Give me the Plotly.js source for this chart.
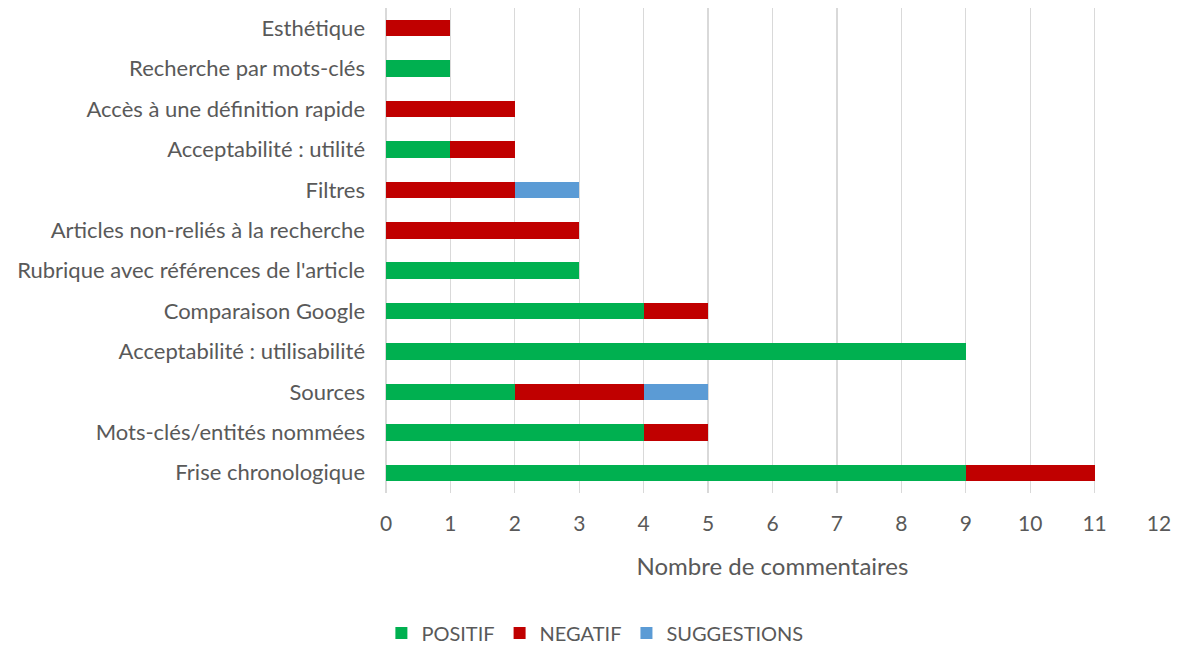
<!DOCTYPE html>
<html><head><meta charset="utf-8">
<script src="https://cdn.plot.ly/plotly-3.0.1.min.js"></script>
<style>body{margin:0;background:#fff}#chart{width:1178px;height:646px}</style>
</head><body><div id="chart"></div>
<script>
const categories = ["Frise chronologique","Mots-clés/entités nommées","Sources","Acceptabilité : utilisabilité","Comparaison Google","Rubrique avec références de l'article","Articles non-reliés à la recherche","Filtres","Acceptabilité : utilité","Accès à une définition rapide","Recherche par mots-clés","Esthétique"];
const positif = [9,4,2,9,4,3,0,0,1,0,1,0];
const negatif = [2,1,2,0,1,0,3,2,1,2,0,1];
const suggestions = [0,0,1,0,0,0,0,1,0,0,0,0];
const xTicks = [0,1,2,3,4,5,6,7,8,9,10,11,12];

const font = {family:"Lato, 'Open Sans', sans-serif", color:"#595959"};
function f(s){return Object.assign({size:s},font);}
function tr(name, vals, color){
  return {type:'bar', orientation:'h', name:name, y:categories, x:vals, marker:{color:color}, hoverinfo:'x+y'};
}
const data = [tr("POSITIF",positif,"#00B050"), tr("NEGATIF",negatif,"#C00000"), tr("SUGGESTIONS",suggestions,"#5B9BD5")];
const layout = {
  width:1178, height:646, barmode:'stack', bargap:0.59,
  margin:{l:386,r:19,t:8,b:153, autoexpand:false},
  paper_bgcolor:'#fff', plot_bgcolor:'#fff',
  font:f(22),
  xaxis:{range:[0,12], tickvals:xTicks, ticktext:xTicks.map(String), showgrid:true, gridcolor:'#d9d9d9', gridwidth:1.3, zeroline:true, zerolinecolor:'#d9d9d9', zerolinewidth:1.3,
    ticks:'', ticklen:0, tickfont:f(21), ticklabelstandoff:16, automargin:false,
    title:{text:"Nombre de commentaires", font:f(24), standoff:24}},
  yaxis:{type:'category', categoryorder:'array', categoryarray:categories, showgrid:false, ticks:'', ticklen:0, tickfont:f(22), automargin:false, ticklabelstandoff:20},
  legend:{orientation:'h', xref:'container', x:0.505, xanchor:'center', yref:'container', y:0.02, yanchor:'middle', font:f(20), traceorder:'normal', itemwidth:30},
  showlegend:true
};
Plotly.newPlot('chart', data, layout, {displayModeBar:false, staticPlot:true});
</script></body></html>
